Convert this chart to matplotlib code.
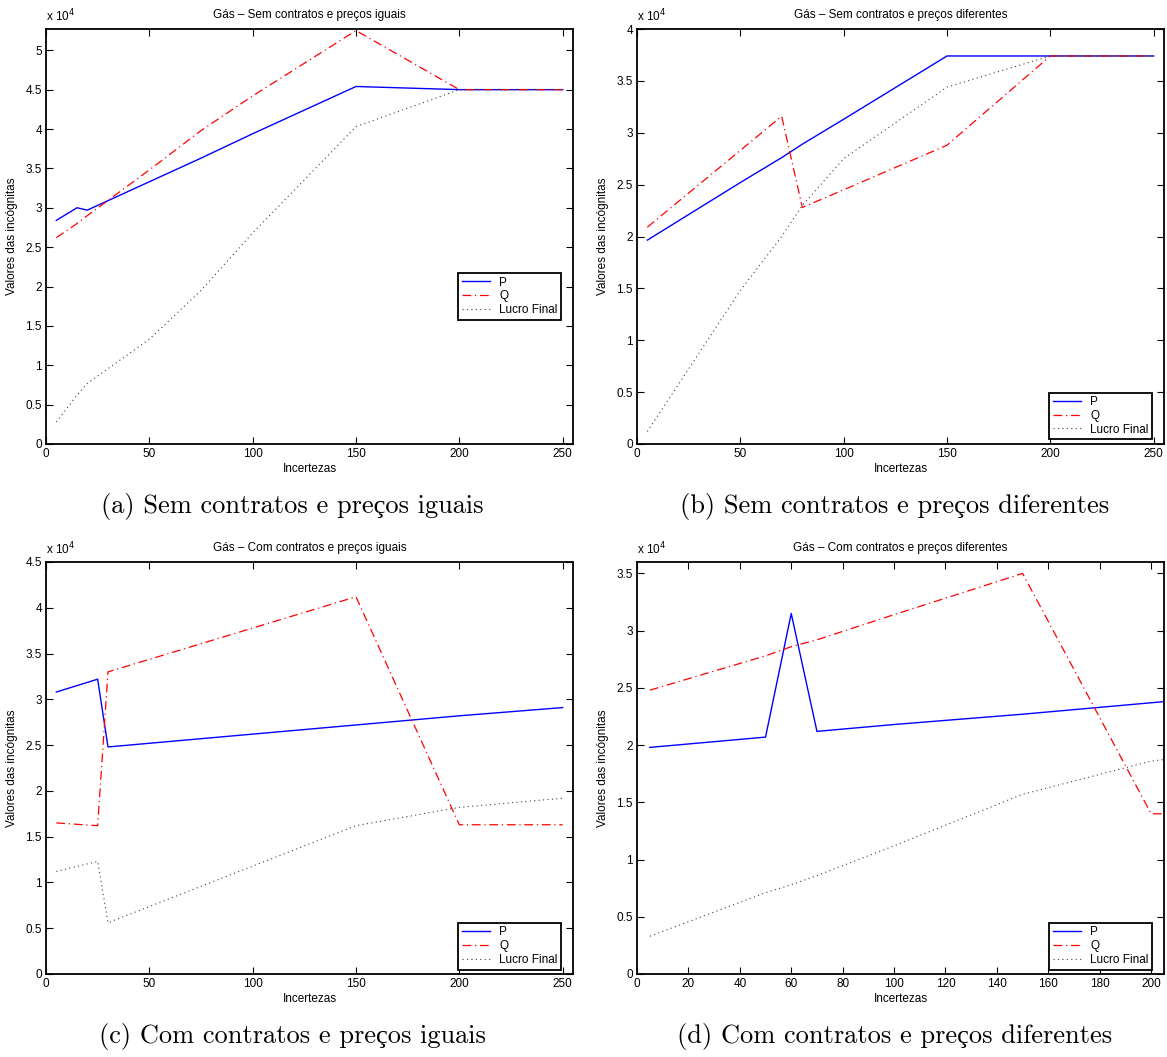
import matplotlib
matplotlib.use('Agg')
import matplotlib.pyplot as plt
from matplotlib.ticker import FuncFormatter, MultipleLocator

# Dados (valores em unidades absolutas)
x_a = [5, 15, 20, 50, 75, 100, 150, 200, 250]
p_a = [28400, 30000, 29700, 33300, 36300, 39400, 45400, 45000, 45000]
q_a = [26200, 28000, 29000, 34800, 39800, 44200, 52500, 45000, 45000]
lucro_a = [2800, 6200, 7700, 13300, 19500, 26800, 40300, 45000, 45000]

x_b = [5, 50, 70, 80, 100, 150, 200, 250]
p_b = [19650, 25200, 27600, 28900, 31300, 37400, 37400, 37400]
q_b = [20900, 28300, 31600, 22800, 24500, 28800, 37400, 37400]
lucro_b = [1200, 14800, 20000, 23000, 27500, 34400, 37400, 37400]

x_c = [5, 25, 30, 150, 200, 250]
p_c = [30800, 32200, 24800, 27200, 28200, 29100]
q_c = [16500, 16200, 33000, 41200, 16300, 16300]
lucro_c = [11200, 12300, 5600, 16200, 18200, 19200]

x_d = [5, 50, 60, 70, 100, 150, 200, 250]
p_d = [19800, 20700, 31500, 21200, 21800, 22700, 23700, 24700]
q_d = [24800, 27800, 28600, 29200, 31400, 35000, 14000, 14000]
lucro_d = [3300, 7100, 7800, 8600, 11200, 15700, 18600, 20000]

titulos = ['Gás – Sem contratos e preços iguais',
           'Gás – Sem contratos e preços diferentes',
           'Gás – Com contratos e preços iguais',
           'Gás – Com contratos e preços diferentes']
legendas = ['P', 'Q', 'Lucro Final']
subtitulos = ['(a) Sem contratos e preços iguais',
              '(b) Sem contratos e preços diferentes',
              '(c) Com contratos e preços iguais',
              '(d) Com contratos e preços diferentes']

plt.rcParams['font.family'] = ['Liberation Sans', 'DejaVu Sans']
plt.rcParams['font.size'] = 8.5

fig = plt.figure(figsize=(11.67, 10.57), dpi=100)

W = 527 / 1167
posicoes = [
    [46 / 1167, 1 - 444 / 1057, W, 415 / 1057],
    [637 / 1167, 1 - 444 / 1057, W, 415 / 1057],
    [46 / 1167, 1 - 974 / 1057, W, 412 / 1057],
    [637 / 1167, 1 - 974 / 1057, W, 412 / 1057],
]
dados = [(x_a, p_a, q_a, lucro_a), (x_b, p_b, q_b, lucro_b),
         (x_c, p_c, q_c, lucro_c), (x_d, p_d, q_d, lucro_d)]
xlims = [255, 255, 255, 205]
ylims = [52700, 40000, 45000, 36000]
xpassos = [50, 50, 50, 20]
# caixa da legenda (canto superior esquerdo em fracao dos eixos)
leg_pos = [(0.782, 0.412), (0.782, 0.124), (0.782, 0.124), (0.782, 0.124)]

fmt = FuncFormatter(lambda v, pos: '%g' % round(v / 1e4, 2))

for i in range(4):
    ax = fig.add_axes(posicoes[i])
    x, p, q, lucro = dados[i]
    ax.plot(x, p, color='blue', lw=1.0, label=legendas[0])
    ax.plot(x, q, color='red', lw=0.9, linestyle=(0, (7, 3, 1, 3)), label=legendas[1])
    ax.plot(x, lucro, color='0.25', lw=0.8, linestyle=(0, (1, 3)), label=legendas[2])
    ax.set_xlim(0, xlims[i])
    ax.set_ylim(0, ylims[i])
    ax.xaxis.set_major_locator(MultipleLocator(xpassos[i]))
    ax.yaxis.set_major_locator(MultipleLocator(5000))
    ax.yaxis.set_major_formatter(fmt)
    ax.tick_params(direction='in', top=True, right=True, length=5, width=0.8, pad=3)
    for s in ax.spines.values():
        s.set_linewidth(1.3)
    ax.set_title(titulos[i], fontsize=8.5, pad=8)
    ax.set_xlabel('Incertezas', labelpad=2)
    ax.set_ylabel('Valores das incógnitas', labelpad=5)
    ax.text(0.0, 1.012, r'x 10$^{4}$', transform=ax.transAxes, ha='left', va='bottom')
    leg = ax.legend(loc='upper left', bbox_to_anchor=leg_pos[i], frameon=True,
                    fancybox=False, edgecolor='black', framealpha=1,
                    borderpad=0.3, labelspacing=0.15, handlelength=2.4,
                    handletextpad=0.8, borderaxespad=0)
    leg.get_frame().set_linewidth(1.3)

cap_x = [292 / 1167, 895 / 1167, 292 / 1167, 895 / 1167]
cap_y = [1 - 507 / 1057, 1 - 507 / 1057, 1 - 1037 / 1057, 1 - 1037 / 1057]
for i in range(4):
    fig.text(cap_x[i], cap_y[i], subtitulos[i], ha='center', va='center',
             fontsize=19, family=['cmr10', 'Liberation Serif'])

fig.savefig('out.png', dpi=100)
